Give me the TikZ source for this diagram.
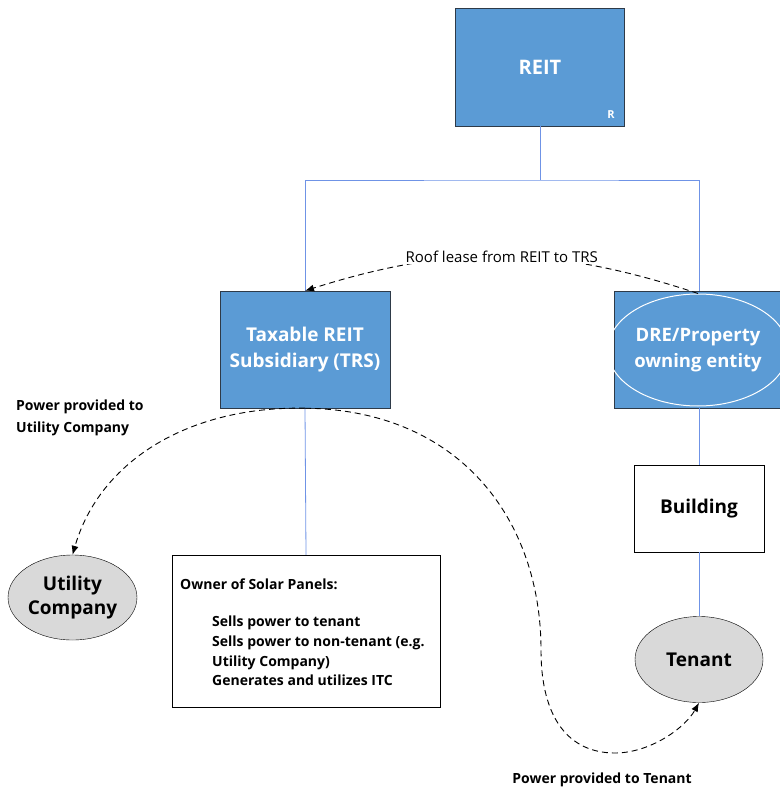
\documentclass[tikz,border=0pt]{standalone}
\usepackage{fontspec}
\setmainfont{Open Sans}
\usetikzlibrary{shapes.geometric,arrows.meta}
\definecolor{boxblue}{HTML}{5B9BD5}
\definecolor{boxedge}{HTML}{2E3A48}
\definecolor{treeline}{HTML}{6F93E6}
\definecolor{partyfill}{HTML}{D9D9D9}
\tikzset{entity/.style={rectangle,draw=boxedge,fill=boxblue,text=white,
        font=\bfseries\fontsize{19}{26}\selectfont,align=center,inner sep=0pt},
    party/.style={ellipse,draw=black,fill=partyfill,font=\bfseries\fontsize{19}{24}\selectfont,
        align=center,inner sep=0pt},
    plainbox/.style={rectangle,draw=black,fill=white,inner sep=0pt},
    treeedge/.style={draw=treeline,line width=0.8pt},
    flow/.style={dashed,line width=0.9pt,dash pattern=on 6pt off 4pt,-{Latex[length=9pt,width=7pt]}},
    flowlabel/.style={font=\bfseries\fontsize{14}{22}\selectfont,align=left},
    }

\begin{document}
\begin{tikzpicture}[x=1pt,y=-1pt]
\useasboundingbox (0,0) rectangle (779,791);
% entities
\node[entity,minimum width=169pt,minimum height=118pt,font=\bfseries\fontsize{20}{24}\selectfont] (reit) at (540,67) {REIT};
\node[text=white,font=\bfseries\fontsize{11}{12}\selectfont] (reitmark) at (611,115) {R};
\node[entity,minimum width=170pt,minimum height=117pt] (trs) at (305,349.5) {Taxable REIT\\Subsidiary (TRS)};
\node[entity,minimum width=170pt,minimum height=117pt] (dre) at (699,349.5) {};
\node[ellipse,draw=white,line width=1pt,minimum width=160pt,minimum height=112pt,inner sep=0pt,
    text=white,font=\bfseries\fontsize{18.5}{26}\selectfont,align=center] (dreell) at (698,350) {DRE/Property\\owning entity};
\node[plainbox,minimum width=130pt,minimum height=87pt,font=\bfseries\fontsize{19}{22}\selectfont] (bldg) at (699,508.5) {Building};
\node[party,minimum width=128pt,minimum height=86pt] (tenant) at (699,659.5) {Tenant};
\node[party,minimum width=129pt,minimum height=85pt] (utility) at (72.5,597.5) {Utility\\Company};
\node[plainbox,minimum width=268pt,minimum height=152pt] (owner) at (306,631) {};
\node[anchor=north west,align=left,inner sep=0pt,font=\bfseries\fontsize{14}{19.7}\selectfont] (ownertext) at (180,579)
    {Owner of Solar Panels:\\[17pt]
    \hspace*{32pt}Sells power to tenant\\
    \hspace*{32pt}Sells power to non-tenant (e.g.\\
    \hspace*{32pt}Utility Company)\\
    \hspace*{32pt}Generates and utilizes ITC};
% ownership lines
\coordinate (split) at (540,180);
\draw[treeedge] (reit.south) -- (split);
\draw[treeedge] (trs.north) |- (split) -| (dre.north);
\draw[treeedge] (trs.south) -- (owner.north);
\draw[treeedge] (dre.south) -- (bldg.north);
\draw[treeedge] (bldg.south) -- (tenant.north);
% flows
\draw[flow] (dreell.north) to[bend right=18]
    node[midway,fill=white,inner sep=2pt,font=\fontsize{15}{18}\selectfont] (leaselabel) {Roof lease from REIT to TRS} (trs.north);
\draw[flow] (trs.south) .. controls (190,406) and (100,460) .. (utility.north);
\draw[flow] (trs.south) .. controls (460,410) and (541,520) .. (541,650)
    .. controls (541,720) and (570,753) .. (615,753)
    .. controls (650,753) and (685,728) .. (tenant.south);
\node[flowlabel,anchor=north west,inner sep=0pt] (utilitylabel) at (16,400) {Power provided to\\Utility Company};
\node[flowlabel,inner sep=0pt] (tenantlabel) at (602,780) {Power provided to Tenant};
\end{tikzpicture}
\end{document}
